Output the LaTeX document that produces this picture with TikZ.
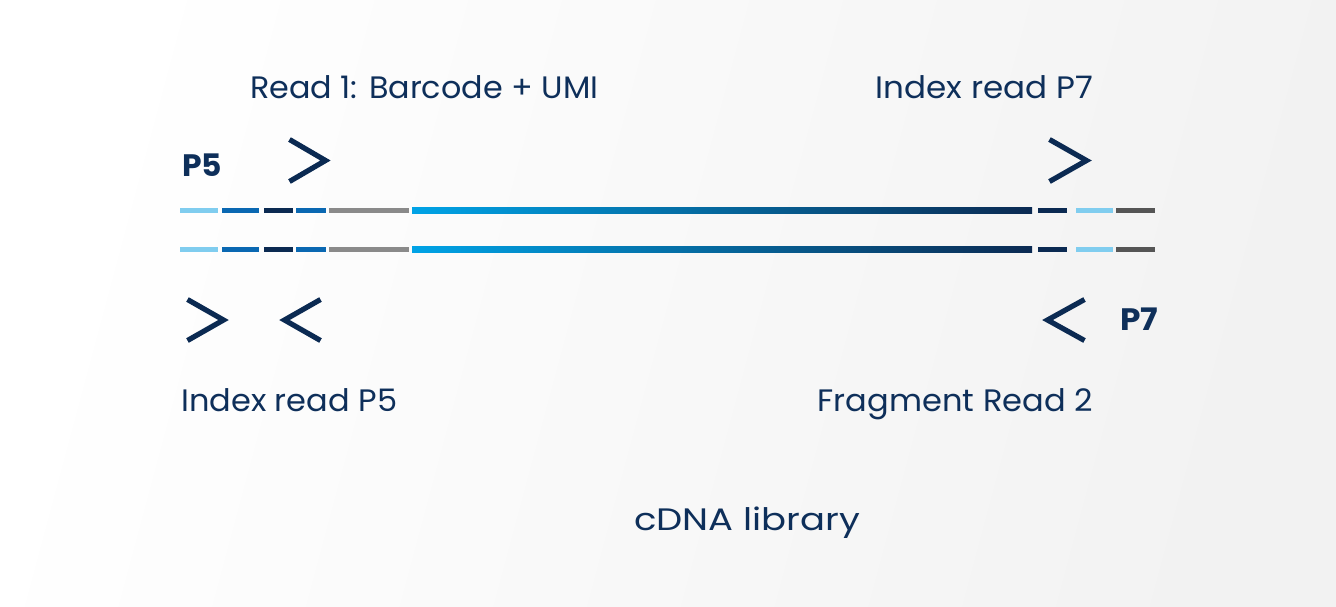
\documentclass[tikz,border=0pt]{standalone}
\usepackage{fontspec}
\setmainfont{Poppins}
\definecolor{navy}{HTML}{0B2A52}
\definecolor{txt}{HTML}{0E2F5A}
\definecolor{lblue}{HTML}{80CDEF}
\definecolor{mblue}{HTML}{0A68B2}
\definecolor{sky}{HTML}{00A3E6}
\definecolor{mgray}{HTML}{8A8A8A}
\definecolor{dgray}{HTML}{555555}
\definecolor{bgr}{HTML}{F2F2F2}
\tikzset{
  lbl/.style={inner sep=0pt, text=txt, font=\fontsize{31}{36}\selectfont},
  blbl/.style={inner sep=0pt, text=txt, font=\fontsize{31}{36}\selectfont\bfseries},
  chev/.style={draw=navy, line width=5.2pt, line cap=butt, line join=miter},
  seg/.style={line width=5.5pt, line cap=butt}
}
\newcommand{\fitw}[2]{\resizebox{#1}{\height}{#2}}
\begin{document}
\begin{tikzpicture}[x=1pt,y=-1pt]
\useasboundingbox (0,0) rectangle (1336,606);
\shade[left color=white, right color=bgr, shading angle=75] (0,0) rectangle (1336,606);

% labels
\node[lbl, anchor=base west] (r1) at (250,98) {\fitw{348pt}{Read 1: Barcode + UMI}};
\node[lbl, anchor=base east] (ip7) at (1093,98) {\fitw{217pt}{Index read P7}};
\node[blbl, anchor=base west] (p5) at (182,176) {\fitw{40pt}{P5}};
\node[blbl, anchor=base west] (p7) at (1120,330) {\fitw{38pt}{P7}};
\node[lbl, anchor=base west] (ip5) at (181,411) {\fitw{216pt}{Index read P5}};
\node[lbl, anchor=base east] (fr2) at (1093,411) {\fitw{275pt}{Fragment Read 2}};
\node[lbl, anchor=base west] (cdna) at (634,530) {\fitw{226pt}{cDNA library}};

% chevrons
\draw[chev] (289.5,139.5) -- (325.5,160.5) -- (289.5,181.5);
\draw[chev] (1049.5,139.5) -- (1086.5,160.5) -- (1049.5,181.5);
\draw[chev] (187.5,299.5) -- (223.5,320) -- (187.5,340.5);
\draw[chev] (320.5,299.5) -- (284.5,320) -- (320.5,340.5);
\draw[chev] (1084.5,299.5) -- (1047.5,320) -- (1084.5,340.5);

% strands
\foreach \yy in {210.5,249.5}{
  \draw[seg, lblue] (180,\yy) -- (218,\yy);
  \draw[seg, mblue] (222,\yy) -- (259,\yy);
  \draw[seg, navy]  (264,\yy) -- (293,\yy);
  \draw[seg, mblue] (296,\yy) -- (326,\yy);
  \draw[seg, mgray] (329,\yy) -- (409,\yy);
  \shade[left color=sky, right color=navy] (412,\yy-2.75) rectangle (1032,\yy+2.75);
  \draw[seg, navy]  (1038,\yy) -- (1067,\yy);
  \draw[seg, lblue] (1076,\yy) -- (1113,\yy);
  \draw[seg, dgray] (1116,\yy) -- (1155,\yy);
}
\end{tikzpicture}
\end{document}
